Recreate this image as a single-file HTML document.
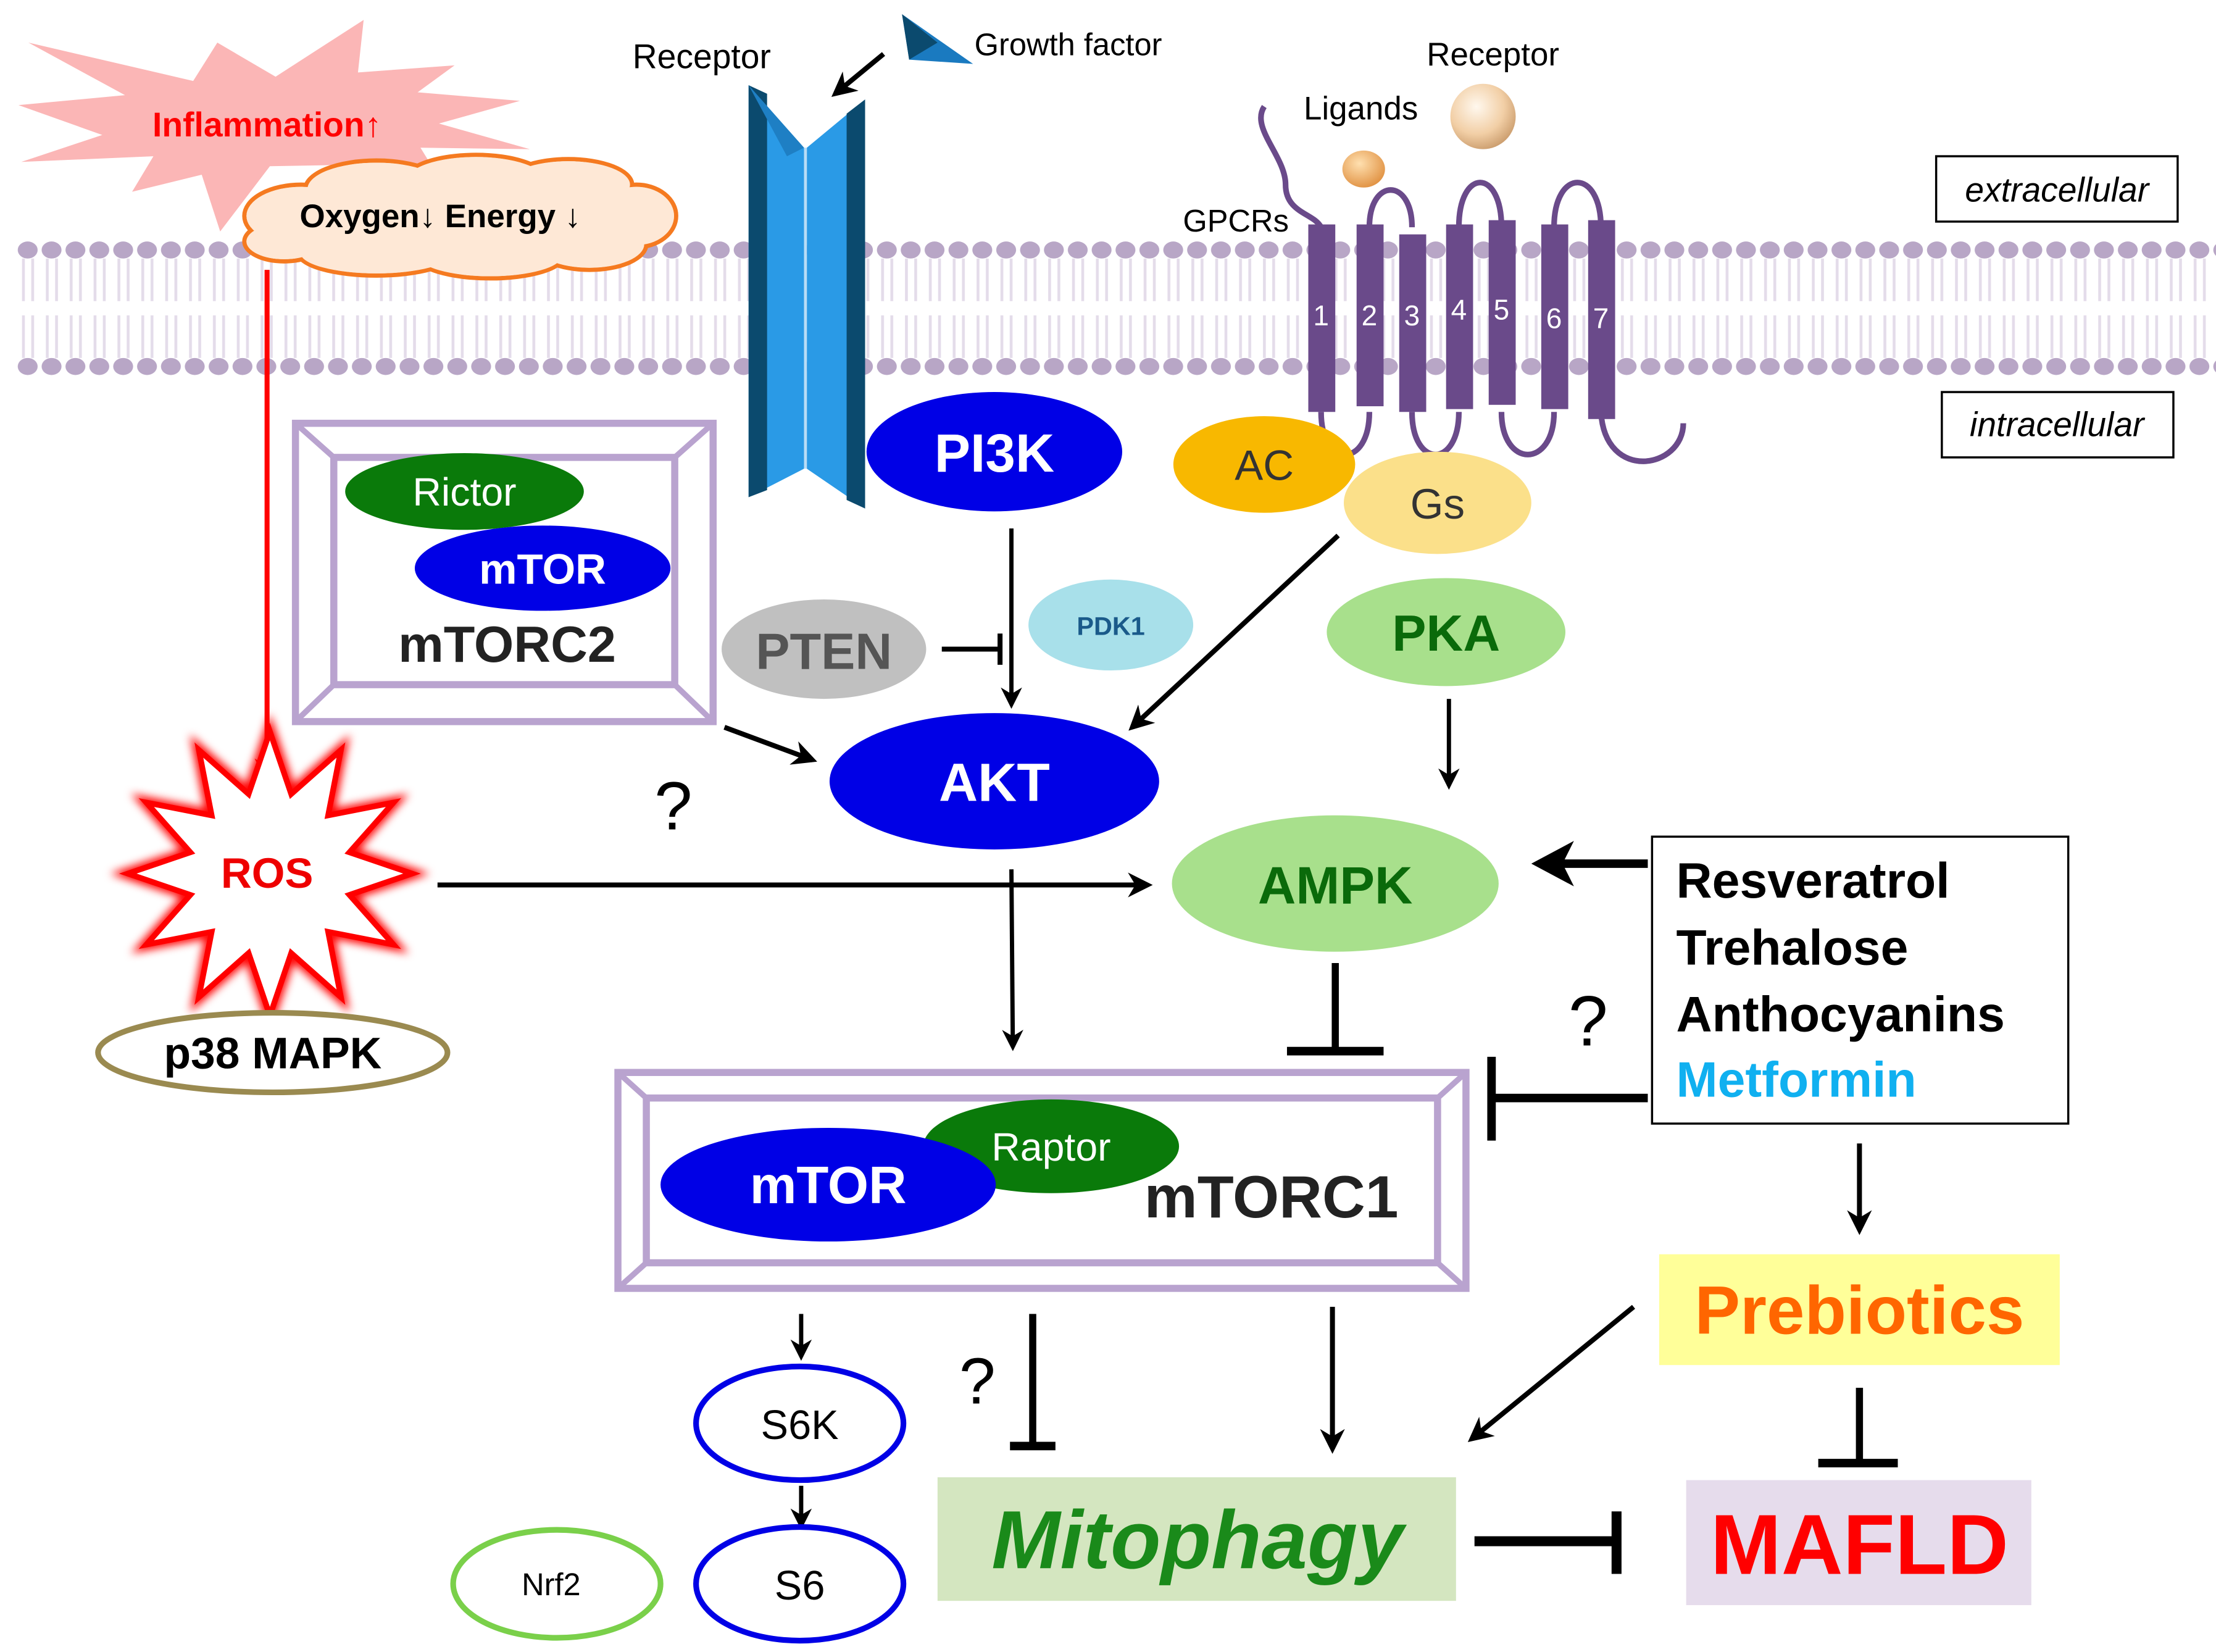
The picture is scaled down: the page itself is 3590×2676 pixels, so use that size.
<!DOCTYPE html>
<html><head><meta charset="utf-8"><style>
html,body{margin:0;padding:0;background:#fff}
svg{display:block}
text{font-family:"Liberation Sans",Arial,sans-serif}
</style></head><body>
<svg width="3590" height="2676" viewBox="0 0 1560 1163" preserveAspectRatio="none" xmlns="http://www.w3.org/2000/svg">
<defs>
<marker id="ah" viewBox="0 0 10 10" refX="8" refY="5" markerWidth="5" markerHeight="5" orient="auto"><path d="M0,0 L10,5 L0,10 L3,5 z" fill="#000"/></marker>
<marker id="ahr" viewBox="0 0 10 10" refX="8" refY="5" markerWidth="5" markerHeight="5" orient="auto"><path d="M0,0 L10,5 L0,10 L3,5 z" fill="#f00"/></marker>
<pattern id="heads" x="12" y="0" width="16.8" height="1163" patternUnits="userSpaceOnUse">
<rect x="3.5" y="182" width="2" height="30" fill="#e4dcea"/><rect x="10" y="182" width="2" height="30" fill="#e4dcea"/>
<rect x="3.5" y="222" width="2" height="30" fill="#e4dcea"/><rect x="10" y="222" width="2" height="30" fill="#e4dcea"/>
<ellipse cx="7.5" cy="176" rx="7" ry="6" fill="#b8a6c6"/>
<ellipse cx="7.5" cy="258" rx="7" ry="6" fill="#b8a6c6"/>
</pattern>
<radialGradient id="ball" cx="0.4" cy="0.35" r="0.7"><stop offset="0" stop-color="#fff8ee"/><stop offset="0.6" stop-color="#f2cfa6"/><stop offset="1" stop-color="#c99a6a"/></radialGradient>
<radialGradient id="ball2" cx="0.4" cy="0.35" r="0.7"><stop offset="0" stop-color="#ffe0b0"/><stop offset="1" stop-color="#e09040"/></radialGradient>
<filter id="glow" x="-20%" y="-20%" width="140%" height="140%"><feGaussianBlur stdDeviation="3"/></filter>
</defs>

<rect x="10" y="168" width="1550" height="97" fill="url(#heads)"/>

<polygon points="20,30 136,57 153,30 194,54 256,14 252,51 320,46 294,65 366,71 309,87 373,105 296,104 317,138 248,116 190,117 155,163 142,123 93,135 108,110 15,114 72,95 13,74 88,67" fill="#fbb6b6"/>
<text x="188" y="96" font-size="24" font-weight="bold" fill="#f00" text-anchor="middle">Inflammation↑</text>

<g stroke="#f57a20" stroke-width="3" fill="#fee8d6">
<ellipse cx="212" cy="152" rx="40" ry="22"/><ellipse cx="265" cy="133" rx="50" ry="20"/><ellipse cx="335" cy="127" rx="50" ry="18"/><ellipse cx="400" cy="130" rx="45" ry="18"/><ellipse cx="448" cy="152" rx="28" ry="22"/><ellipse cx="415" cy="172" rx="40" ry="18"/><ellipse cx="345" cy="180" rx="52" ry="16"/><ellipse cx="265" cy="178" rx="55" ry="16"/><ellipse cx="200" cy="170" rx="28" ry="14"/>
</g>
<g fill="#fee8d6">
<ellipse cx="212" cy="152" rx="38.5" ry="20.5"/><ellipse cx="265" cy="133" rx="48.5" ry="18.5"/><ellipse cx="335" cy="127" rx="48.5" ry="16.5"/><ellipse cx="400" cy="130" rx="43.5" ry="16.5"/><ellipse cx="448" cy="152" rx="26.5" ry="20.5"/><ellipse cx="415" cy="172" rx="38.5" ry="16.5"/><ellipse cx="345" cy="180" rx="50.5" ry="14.5"/><ellipse cx="265" cy="178" rx="53.5" ry="14.5"/><ellipse cx="200" cy="170" rx="26.5" ry="12.5"/>
<rect x="205" y="135" width="240" height="45"/>
</g>
<text x="310" y="160" font-size="23" font-weight="bold" fill="#000" text-anchor="middle">Oxygen↓ Energy ↓</text>

<line x1="188" y1="190" x2="188" y2="548" stroke="#f00" stroke-width="3.5" marker-end="url(#ahr)"/>

<polygon points="190,515 205,559 240,528 231,574 277,565 246,600 290,615 246,630 277,665 231,656 240,702 205,671 190,715 175,671 140,702 149,656 103,665 134,630 90,615 134,600 103,565 149,574 140,528 175,559" fill="none" stroke="#f00" stroke-width="8" filter="url(#glow)"/>
<polygon points="190,515 205,559 240,528 231,574 277,565 246,600 290,615 246,630 277,665 231,656 240,702 205,671 190,715 175,671 140,702 149,656 103,665 134,630 90,615 134,600 103,565 149,574 140,528 175,559" fill="#fff" stroke="#f00" stroke-width="4"/>
<text x="188" y="625" font-size="30" font-weight="bold" fill="#e00" text-anchor="middle">ROS</text>
<ellipse cx="192" cy="741" rx="123" ry="28" fill="#fff" stroke="#9a8a50" stroke-width="4"/>
<text x="192" y="752" font-size="31" font-weight="bold" text-anchor="middle">p38 MAPK</text>

<polygon points="527,60 566,104 566,330 527,350" fill="#2a9ae6"/>
<polygon points="527,60 540,66 540,345 527,350" fill="#0b4a6e"/>
<polygon points="527,60 566,104 554,110 540,84" fill="#1e7fc4"/>
<polygon points="609,70 568,104 568,330 609,358" fill="#2a9ae6"/>
<polygon points="609,70 596,80 596,352 609,358" fill="#0b4a6e"/>
<line x1="567" y1="104" x2="567" y2="330" stroke="#b8dcf6" stroke-width="2"/>
<text x="494" y="48" font-size="24" text-anchor="middle">Receptor</text>
<polygon points="635,10 685,45 640,42" fill="#1a7ac0"/>
<polygon points="635,10 660,30 640,42" fill="#0b4a6e"/>
<text x="686" y="39" font-size="22">Growth factor</text>
<line x1="622" y1="38" x2="588" y2="66" stroke="#000" stroke-width="3.5" marker-end="url(#ah)"/>

<rect x="208" y="298" width="294" height="210" fill="#fff" stroke="#b9a3cf" stroke-width="5"/>
<rect x="235" y="322" width="240" height="160" fill="none" stroke="#b9a3cf" stroke-width="5"/>
<g stroke="#b9a3cf" stroke-width="4"><line x1="208" y1="298" x2="235" y2="322"/><line x1="502" y1="298" x2="475" y2="322"/><line x1="208" y1="508" x2="235" y2="482"/><line x1="502" y1="508" x2="475" y2="482"/></g>
<ellipse cx="327" cy="346" rx="84" ry="27" fill="#0a7a0a"/>
<text x="327" y="356" font-size="28" fill="#fff" text-anchor="middle">Rictor</text>
<ellipse cx="382" cy="400" rx="90" ry="30" fill="#0000e6"/>
<text x="382" y="411" font-size="30" font-weight="bold" fill="#fff" text-anchor="middle">mTOR</text>
<text x="357" y="466" font-size="36" font-weight="bold" fill="#222" text-anchor="middle">mTORC2</text>

<ellipse cx="700" cy="318" rx="90" ry="42" fill="#0000e6"/>
<text x="700" y="332" font-size="38" font-weight="bold" fill="#fff" text-anchor="middle">PI3K</text>
<ellipse cx="580" cy="457" rx="72" ry="35" fill="#c0c0c0"/>
<text x="580" y="471" font-size="36" font-weight="bold" fill="#555" text-anchor="middle">PTEN</text>
<line x1="663" y1="457" x2="705" y2="457" stroke="#000" stroke-width="3.5"/>
<line x1="704" y1="446" x2="704" y2="468" stroke="#000" stroke-width="3.5"/>
<ellipse cx="782" cy="440" rx="58" ry="32" fill="#a8e0ea"/>
<text x="782" y="447" font-size="18" font-weight="bold" fill="#1a5a8a" text-anchor="middle">PDK1</text>
<line x1="712" y1="372" x2="712" y2="496" stroke="#000" stroke-width="3" marker-end="url(#ah)"/>
<ellipse cx="700" cy="550" rx="116" ry="48" fill="#0000e6"/>
<text x="700" y="564" font-size="38" font-weight="bold" fill="#fff" text-anchor="middle">AKT</text>
<line x1="510" y1="512" x2="572" y2="535" stroke="#000" stroke-width="3.5" marker-end="url(#ah)"/>
<text x="474" y="584" font-size="48" text-anchor="middle">?</text>

<g fill="none" stroke="#6a4a8a" stroke-width="4">
<path d="M890,75 C880,90 905,110 905,130 C905,150 925,150 930,160"/>
<path d="M930,290 C930,330 964,330 964,290"/>
<path d="M964,160 C964,125 994,125 994,160"/>
<path d="M994,290 C994,330 1027,330 1027,290"/>
<path d="M1027,160 C1027,118 1057,118 1057,160"/>
<path d="M1057,290 C1057,330 1094,330 1094,290"/>
<path d="M1094,160 C1094,118 1127,118 1127,160"/>
<path d="M1127,290 C1130,340 1185,330 1185,298"/>
</g>
<g fill="#6a4a8a">
<rect x="921" y="158" width="19" height="132"/><rect x="955" y="158" width="19" height="128"/><rect x="985" y="165" width="19" height="125"/><rect x="1018" y="158" width="19" height="130"/><rect x="1048" y="155" width="19" height="130"/><rect x="1085" y="158" width="19" height="130"/><rect x="1118" y="155" width="19" height="140"/>
</g>
<g font-size="20" fill="#fff" text-anchor="middle"><text x="930" y="229">1</text><text x="964" y="229">2</text><text x="994" y="229">3</text><text x="1027" y="225">4</text><text x="1057" y="225">5</text><text x="1094" y="231">6</text><text x="1127" y="231">7</text></g>
<text x="870" y="163" font-size="22" text-anchor="middle">GPCRs</text>
<text x="958" y="84" font-size="23" text-anchor="middle">Ligands</text>
<ellipse cx="960" cy="119" rx="15" ry="13" fill="url(#ball2)"/>
<text x="1051" y="46" font-size="23" text-anchor="middle">Receptor</text>
<circle cx="1044" cy="82" r="23" fill="url(#ball)"/>

<rect x="1363" y="110" width="170" height="46" fill="#fff" stroke="#000" stroke-width="1.5"/>
<text x="1448" y="142" font-size="24" font-style="italic" text-anchor="middle">extracellular</text>
<rect x="1367" y="276" width="163" height="46" fill="#fff" stroke="#000" stroke-width="1.5"/>
<text x="1448" y="307" font-size="24" font-style="italic" text-anchor="middle">intracellular</text>

<ellipse cx="890" cy="327" rx="64" ry="34" fill="#f8b800"/>
<text x="890" y="338" font-size="30" fill="#333" text-anchor="middle">AC</text>
<ellipse cx="1012" cy="354" rx="66" ry="36" fill="#fbe08a"/>
<text x="1012" y="365" font-size="30" fill="#333" text-anchor="middle">Gs</text>
<line x1="942" y1="377" x2="797" y2="512" stroke="#000" stroke-width="3.5" marker-end="url(#ah)"/>
<ellipse cx="1018" cy="445" rx="84" ry="38" fill="#a8e08c"/>
<text x="1018" y="458" font-size="36" font-weight="bold" fill="#0a6a0a" text-anchor="middle">PKA</text>
<line x1="1020" y1="492" x2="1020" y2="553" stroke="#000" stroke-width="3" marker-end="url(#ah)"/>

<ellipse cx="940" cy="622" rx="115" ry="48" fill="#a8e08c"/>
<text x="940" y="636" font-size="37" font-weight="bold" fill="#0a6a0a" text-anchor="middle">AMPK</text>
<line x1="308" y1="623" x2="808" y2="623" stroke="#000" stroke-width="3.5" marker-end="url(#ah)"/>
<line x1="712" y1="612" x2="713" y2="737" stroke="#000" stroke-width="3" marker-end="url(#ah)"/>
<line x1="940" y1="678" x2="940" y2="740" stroke="#000" stroke-width="5"/>
<line x1="906" y1="740" x2="974" y2="740" stroke="#000" stroke-width="6"/>

<rect x="1163" y="589" width="293" height="202" fill="#fff" stroke="#000" stroke-width="1.5"/>
<g font-size="35" font-weight="bold"><text x="1180" y="632">Resveratrol</text><text x="1180" y="679">Trehalose</text><text x="1180" y="726">Anthocyanins</text><text x="1180" y="772" fill="#10b0f0">Metformin</text></g>
<line x1="1160" y1="608" x2="1100" y2="608" stroke="#000" stroke-width="6"/>
<path d="M1078,608 L1108,592 L1100,608 L1108,624 z" fill="#000"/>
<text x="1118" y="736" font-size="50" text-anchor="middle">?</text>
<line x1="1160" y1="773" x2="1050" y2="773" stroke="#000" stroke-width="6"/>
<line x1="1050" y1="744" x2="1050" y2="803" stroke="#000" stroke-width="6"/>

<rect x="435" y="755" width="597" height="152" fill="#fff" stroke="#b9a3cf" stroke-width="5"/>
<rect x="455" y="773" width="557" height="116" fill="none" stroke="#b9a3cf" stroke-width="5"/>
<g stroke="#b9a3cf" stroke-width="4"><line x1="435" y1="755" x2="455" y2="773"/><line x1="1032" y1="755" x2="1012" y2="773"/><line x1="435" y1="907" x2="455" y2="889"/><line x1="1032" y1="907" x2="1012" y2="889"/></g>
<ellipse cx="740" cy="807" rx="90" ry="33" fill="#0a7a0a"/>
<text x="740" y="817" font-size="28" fill="#fff" text-anchor="middle">Raptor</text>
<ellipse cx="583" cy="834" rx="118" ry="40" fill="#0000e6"/>
<text x="583" y="847" font-size="37" font-weight="bold" fill="#fff" text-anchor="middle">mTOR</text>
<text x="895" y="857" font-size="42" font-weight="bold" fill="#222" text-anchor="middle">mTORC1</text>

<line x1="1309" y1="805" x2="1309" y2="866" stroke="#000" stroke-width="3.5" marker-end="url(#ah)"/>
<rect x="1168" y="883" width="282" height="78" fill="#ffff99"/>
<text x="1309" y="939" font-size="48" font-weight="bold" fill="#ff6600" text-anchor="middle">Prebiotics</text>
<line x1="1309" y1="977" x2="1309" y2="1030" stroke="#000" stroke-width="5"/>
<line x1="1280" y1="1030" x2="1336" y2="1030" stroke="#000" stroke-width="6"/>
<rect x="1187" y="1042" width="243" height="88" fill="#e6dcec"/>
<text x="1309" y="1108" font-size="60" font-weight="bold" fill="#f00" text-anchor="middle">MAFLD</text>
<line x1="1150" y1="920" x2="1036" y2="1013" stroke="#000" stroke-width="3.5" marker-end="url(#ah)"/>
<rect x="660" y="1040" width="365" height="87" fill="#d4e6c0"/>
<text x="843" y="1104" font-size="58" font-weight="bold" font-style="italic" fill="#1a8a1a" text-anchor="middle">Mitophagy</text>
<line x1="1038" y1="1085" x2="1138" y2="1085" stroke="#000" stroke-width="7"/>
<line x1="1138" y1="1064" x2="1138" y2="1108" stroke="#000" stroke-width="7"/>
<line x1="938" y1="920" x2="938" y2="1020" stroke="#000" stroke-width="3.5" marker-end="url(#ah)"/>
<line x1="727" y1="925" x2="727" y2="1018" stroke="#000" stroke-width="5"/>
<line x1="711" y1="1018" x2="743" y2="1018" stroke="#000" stroke-width="6"/>
<text x="688" y="988" font-size="46" text-anchor="middle">?</text>
<line x1="564" y1="925" x2="564" y2="955" stroke="#000" stroke-width="3" marker-end="url(#ah)"/>
<ellipse cx="563" cy="1002" rx="73" ry="40" fill="#fff" stroke="#0000e6" stroke-width="4"/>
<text x="563" y="1013" font-size="29" text-anchor="middle">S6K</text>
<line x1="564" y1="1046" x2="564" y2="1074" stroke="#000" stroke-width="3" marker-end="url(#ah)"/>
<ellipse cx="563" cy="1115" rx="73" ry="40" fill="#fff" stroke="#0000e6" stroke-width="4"/>
<text x="563" y="1126" font-size="29" text-anchor="middle">S6</text>
<ellipse cx="392" cy="1115" rx="73" ry="38" fill="#fff" stroke="#7ad04a" stroke-width="4"/>
<text x="388" y="1123" font-size="22" text-anchor="middle">Nrf2</text>
</svg>
</body></html>
